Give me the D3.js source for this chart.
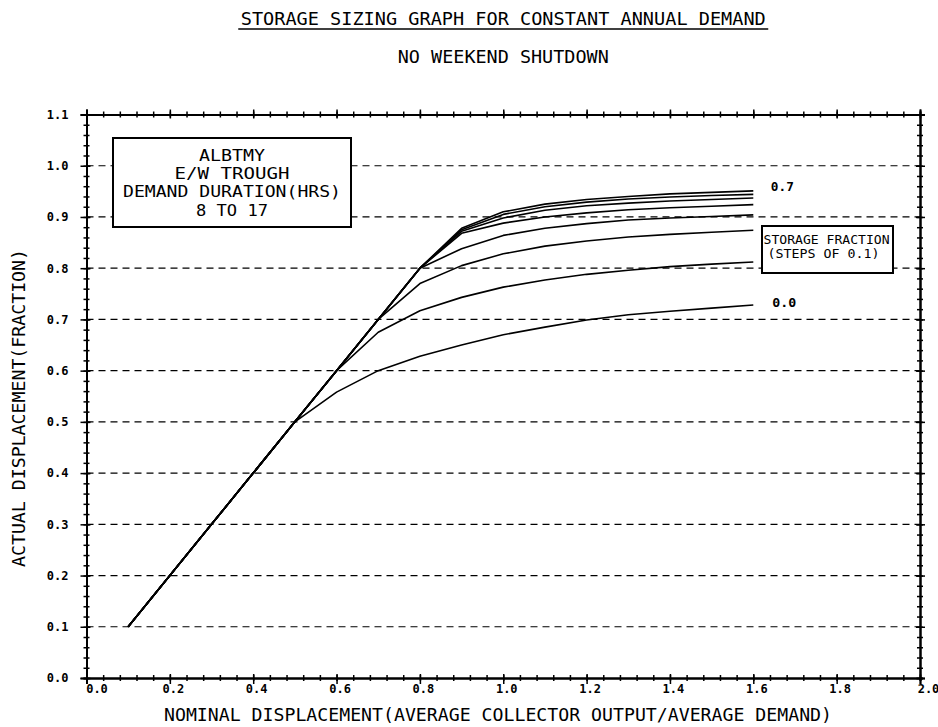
<!DOCTYPE html>
<html>
<head>
<meta charset="utf-8">
<script src="https://cdn.jsdelivr.net/npm/d3@7"></script>
<style>
  html, body { margin: 0; padding: 0; background: #fff; }
  svg { display: block; }
  text { font-family: "DejaVu Sans Mono", "Liberation Mono", monospace; fill: #000; }
</style>
</head>
<body>
<svg id="chart" width="938" height="727"></svg>
<script>
// Nominal displacement (average collector output / average demand)
const nominal = [0.1, 0.2, 0.3, 0.4, 0.5, 0.6, 0.7, 0.8, 0.9, 1.0, 1.1, 1.2, 1.3, 1.4, 1.5, 1.6];

// Actual displacement for each storage fraction
const storage00 = [0.1, 0.2, 0.3, 0.4, 0.5, 0.558, 0.600, 0.628, 0.650, 0.670, 0.685, 0.699, 0.709, 0.716, 0.722, 0.728];
const storage01 = [0.1, 0.2, 0.3, 0.4, 0.5, 0.600, 0.675, 0.717, 0.743, 0.763, 0.777, 0.788, 0.796, 0.803, 0.808, 0.812];
const storage02 = [0.1, 0.2, 0.3, 0.4, 0.5, 0.600, 0.700, 0.770, 0.805, 0.828, 0.843, 0.853, 0.861, 0.866, 0.870, 0.874];
const storage03 = [0.1, 0.2, 0.3, 0.4, 0.5, 0.600, 0.700, 0.800, 0.838, 0.864, 0.878, 0.887, 0.894, 0.898, 0.901, 0.904];
const storage04 = [0.1, 0.2, 0.3, 0.4, 0.5, 0.600, 0.700, 0.800, 0.868, 0.888, 0.900, 0.908, 0.914, 0.918, 0.921, 0.924];
const storage05 = [0.1, 0.2, 0.3, 0.4, 0.5, 0.600, 0.700, 0.800, 0.872, 0.898, 0.913, 0.922, 0.927, 0.931, 0.934, 0.937];
const storage06 = [0.1, 0.2, 0.3, 0.4, 0.5, 0.600, 0.700, 0.800, 0.875, 0.905, 0.920, 0.929, 0.935, 0.939, 0.942, 0.944];
const storage07 = [0.1, 0.2, 0.3, 0.4, 0.5, 0.600, 0.700, 0.800, 0.878, 0.910, 0.925, 0.934, 0.940, 0.945, 0.948, 0.951];

const seriesList = [storage00, storage01, storage02, storage03, storage04, storage05, storage06, storage07];
const endLabels = ["0.0", "0.7"];

// Tick labels
const xTickValues = [0, 0.2, 0.4, 0.6, 0.8, 1.0, 1.2, 1.4, 1.6, 1.8, 2.0];
const xTickLabels = ["0.0", "0.2", "0.4", "0.6", "0.8", "1.0", "1.2", "1.4", "1.6", "1.8", "2.0"];
const yTickValues = [0, 0.1, 0.2, 0.3, 0.4, 0.5, 0.6, 0.7, 0.8, 0.9, 1.0, 1.1];
const yTickLabels = ["0.0", "0.1", "0.2", "0.3", "0.4", "0.5", "0.6", "0.7", "0.8", "0.9", "1.0", "1.1"];
const gridValues = [0.1, 0.2, 0.3, 0.4, 0.5, 0.6, 0.7, 0.8, 0.9, 1.0];

const titleText = "STORAGE SIZING GRAPH FOR CONSTANT ANNUAL DEMAND";
const subtitleText = "NO WEEKEND SHUTDOWN";
const xTitle = "NOMINAL DISPLACEMENT(AVERAGE COLLECTOR OUTPUT/AVERAGE DEMAND)";
const yTitle = "ACTUAL DISPLACEMENT(FRACTION)";
const infoLines = ["ALBTMY", "E/W TROUGH", "DEMAND DURATION(HRS)", "8 TO 17"];
const legendLines = ["STORAGE FRACTION", "(STEPS OF 0.1)"];

const svg = d3.select("#chart");
const W = 938, H = 727;
svg.append("rect").attr("width", W).attr("height", H).attr("fill", "#fff");

const plotLeft = 86.5, plotRight = 920, plotTop = 114.5, plotBottom = 678;
const x = d3.scaleLinear().domain([0, 2]).range([plotLeft, plotRight]);
const y = d3.scaleLinear().domain([0, 1.1]).range([plotBottom, plotTop]);
const midX = (plotLeft + plotRight) / 2;

// helper: text squeezed to a given width (plotter lettering is narrow)
function label(g, str, px, py, size, width, anchor, weight) {
  const t = g.append("text")
    .attr("x", px).attr("y", py)
    .attr("font-size", size)
    .attr("text-anchor", anchor || "middle")
    .attr("dominant-baseline", "central")
    .text(str);
  if (weight) t.attr("font-weight", weight);
  if (width) t.attr("textLength", width).attr("lengthAdjust", "spacingAndGlyphs");
  return t;
}

// titles, centred over the plot
label(svg, titleText, midX, 19, 17, 525);
svg.append("line").attr("x1", midX - 265).attr("x2", midX + 265).attr("y1", 29).attr("y2", 29)
  .attr("stroke", "#000").attr("stroke-width", 1.4);
label(svg, subtitleText, midX, 57, 17, 211);

// dashed grid lines
svg.append("g").selectAll("line").data(gridValues).join("line")
  .attr("x1", plotLeft).attr("x2", plotRight)
  .attr("y1", d => y(d)).attr("y2", d => y(d))
  .attr("stroke", "#000").attr("stroke-width", 1.2)
  .attr("stroke-dasharray", "7,5");

// axes built with d3 axis generators, ticks crossing the frame
function styleAxis(g) {
  g.select(".domain").attr("stroke", "#000").attr("stroke-width", 2);
  g.selectAll(".tick line").attr("stroke", "#000").attr("stroke-width", 1.5);
}

const xMinor = d3.range(0, 2.0001, 0.04).map(v => +v.toFixed(2));
const yMinor = d3.range(0, 1.1001, 0.02).map(v => +v.toFixed(2));

// bottom
const gxMinor = svg.append("g").attr("transform", `translate(0,${plotBottom})`)
  .call(d3.axisBottom(x).tickValues(xMinor).tickSize(3).tickFormat(""));
gxMinor.selectAll(".tick line").attr("y1", -3);
styleAxis(gxMinor);
const gx = svg.append("g").attr("transform", `translate(0,${plotBottom})`)
  .call(d3.axisBottom(x).tickValues(xTickValues).tickSize(6)
    .tickFormat((d, i) => xTickLabels[i]));
gx.selectAll(".tick line").attr("y1", -4);
styleAxis(gx);
gx.selectAll(".tick text")
  .attr("font-family", "DejaVu Sans Mono").attr("font-weight", "bold")
  .attr("font-size", 12).attr("dy", "0.3em").attr("y", 11)
  .attr("dx", (d, i) => i === 0 ? 10 : (i === xTickValues.length - 1 ? 8 : 3));

// top
const gtMinor = svg.append("g").attr("transform", `translate(0,${plotTop})`)
  .call(d3.axisTop(x).tickValues(xMinor).tickSize(3).tickFormat(""));
gtMinor.selectAll(".tick line").attr("y1", 3);
styleAxis(gtMinor);
const gt = svg.append("g").attr("transform", `translate(0,${plotTop})`)
  .call(d3.axisTop(x).tickValues(xTickValues).tickSize(5).tickFormat(""));
gt.selectAll(".tick line").attr("y1", 4);
styleAxis(gt);

// left
const gyMinor = svg.append("g").attr("transform", `translate(${plotLeft},0)`)
  .call(d3.axisLeft(y).tickValues(yMinor).tickSize(3).tickFormat(""));
gyMinor.selectAll(".tick line").attr("x1", 3);
styleAxis(gyMinor);
const gy = svg.append("g").attr("transform", `translate(${plotLeft},0)`)
  .call(d3.axisLeft(y).tickValues(yTickValues).tickSize(6)
    .tickFormat((d, i) => yTickLabels[i]));
gy.selectAll(".tick line").attr("x1", 4);
styleAxis(gy);
gy.selectAll(".tick text")
  .attr("font-family", "DejaVu Sans Mono").attr("font-weight", "bold")
  .attr("font-size", 12).attr("x", -18);

// right
const grMinor = svg.append("g").attr("transform", `translate(${plotRight},0)`)
  .call(d3.axisRight(y).tickValues(yMinor).tickSize(3).tickFormat(""));
grMinor.selectAll(".tick line").attr("x1", -3);
styleAxis(grMinor);
const gr = svg.append("g").attr("transform", `translate(${plotRight},0)`)
  .call(d3.axisRight(y).tickValues(yTickValues).tickSize(5).tickFormat(""));
gr.selectAll(".tick line").attr("x1", -4);
styleAxis(gr);

// axis titles
label(svg, xTitle, 164, 715, 17, 668, "start");
const yt = svg.append("g").attr("transform", `translate(19,408) rotate(-90)`);
label(yt, yTitle, 0, 0, 17, 318);

// curves
const line = d3.line().x((d, i) => x(nominal[i])).y(d => y(d));
svg.append("g").selectAll("path").data(seriesList).join("path")
  .attr("d", d => line(d))
  .attr("fill", "none").attr("stroke", "#000").attr("stroke-width", 1.6)
  .attr("stroke-linejoin", "round");

// end labels for the lowest and highest storage fraction
label(svg, endLabels[1], x(nominal[nominal.length - 1]) + 29, y(storage07[storage07.length - 1]) - 4, 13, 23, "middle", "bold");
label(svg, endLabels[0], x(nominal[nominal.length - 1]) + 31, y(storage00[storage00.length - 1]) - 3, 13, 24, "middle", "bold");

// information box
const info = svg.append("g");
info.append("rect").attr("x", 113).attr("y", 138).attr("width", 238).attr("height", 89)
  .attr("fill", "#fff").attr("stroke", "#000").attr("stroke-width", 2);
const infoWidths = [66, 115, 218, 72];
const infoY = [155, 173, 191, 210];
infoLines.forEach((s, i) => label(info, s, 232, infoY[i], 16, infoWidths[i]));

// storage fraction legend box
const leg = svg.append("g");
leg.append("rect").attr("x", 762).attr("y", 226).attr("width", 131).attr("height", 47)
  .attr("fill", "#fff").attr("stroke", "#000").attr("stroke-width", 2);
label(leg, legendLines[0], 826.5, 240, 12, 126);
label(leg, legendLines[1], 823.5, 254, 12, 112);
</script>
</body>
</html>
